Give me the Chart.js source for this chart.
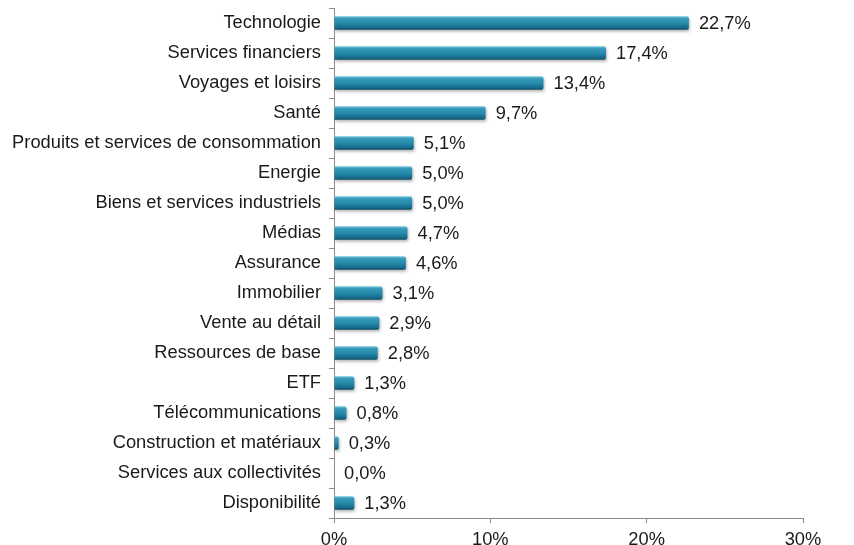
<!DOCTYPE html>
<html>
<head>
<meta charset="utf-8">
<script src="https://cdn.jsdelivr.net/npm/chart.js@4.4.1/dist/chart.umd.min.js"></script>
<style>
  html, body { margin: 0; padding: 0; background: #fff; }
  #wrap { width: 854px; height: 545px; }
</style>
</head>
<body>
<div id="wrap"><canvas id="sectorChart"></canvas></div>
<script>
// Sector weights (%)
const sectors = [
  'Technologie', 'Services financiers', 'Voyages et loisirs', 'Santé',
  'Produits et services de consommation', 'Energie', 'Biens et services industriels',
  'Médias', 'Assurance', 'Immobilier', 'Vente au détail', 'Ressources de base',
  'ETF', 'Télécommunications', 'Construction et matériaux',
  'Services aux collectivités', 'Disponibilité'
];
const weights = [22.7, 17.4, 13.4, 9.7, 5.1, 5.0, 5.0, 4.7, 4.6, 3.1, 2.9, 2.8, 1.3, 0.8, 0.3, 0.0, 1.3];
const xTicks = [0, 10, 20, 30];

const FONT = { family: '"Liberation Sans", Arial, sans-serif', size: 18.3 };
const TEXT = '#1a1a1a';
const AXIS = '#8a8a8a';
const BAR_PCT = 0.45;

// vertical gradient per bar, built from the category scale
function barFill(ctx) {
  const chart = ctx.chart;
  const y = chart.scales.y;
  if (!y || !chart.chartArea) return '#1f86a4';
  const mid = y.getPixelForValue(ctx.dataIndex);
  const half = (y.height / sectors.length) * BAR_PCT / 2;
  const g = chart.ctx.createLinearGradient(0, mid - half, 0, mid + half);
  g.addColorStop(0, '#7cc8e0');
  g.addColorStop(0.18, '#3599ba');
  g.addColorStop(0.55, '#2488a8');
  g.addColorStop(0.85, '#17698a');
  g.addColorStop(1, '#0f4e64');
  return g;
}

// soft drop shadow under the bars
const barShadow = {
  id: 'barShadow',
  beforeDatasetsDraw(chart) {
    const c = chart.ctx;
    c.save();
    c.shadowColor = 'rgba(0,0,0,0.28)';
    c.shadowBlur = 3;
    c.shadowOffsetX = 1;
    c.shadowOffsetY = 2;
  },
  afterDatasetsDraw(chart) {
    chart.ctx.restore();
  }
};

// value labels after each bar
const valueLabels = {
  id: 'valueLabels',
  afterDatasetsDraw(chart) {
    const c = chart.ctx;
    const meta = chart.getDatasetMeta(0);
    c.save();
    c.font = FONT.size + 'px ' + FONT.family;
    c.fillStyle = TEXT;
    c.textAlign = 'left';
    c.textBaseline = 'middle';
    meta.data.forEach((bar, i) => {
      const txt = weights[i].toFixed(1).replace('.', ',') + '%';
      c.fillText(txt, bar.x + 10, bar.y + 1);
    });
    c.restore();
  }
};

new Chart(document.getElementById('sectorChart'), {
  type: 'bar',
  data: {
    labels: sectors,
    datasets: [{
      data: weights,
      backgroundColor: barFill,
      borderWidth: 0,
      borderRadius: 2,
      borderSkipped: 'start',
      categoryPercentage: 1,
      barPercentage: BAR_PCT
    }]
  },
  options: {
    indexAxis: 'y',
    responsive: true,
    maintainAspectRatio: false,
    animation: false,
    layout: { padding: { top: 8, right: 51, left: 0, bottom: 0 } },
    plugins: {
      legend: { display: false },
      tooltip: { enabled: false }
    },
    scales: {
      x: {
        min: 0,
        max: 30,
        afterBuildTicks: s => { s.ticks = xTicks.map(v => ({ value: v })); },
        afterFit: s => { s.height = 27; s.paddingLeft = 0; s.paddingRight = 0; },
        grid: { drawOnChartArea: false, color: AXIS, tickLength: 5 },
        border: { color: AXIS },
        ticks: {
          color: TEXT,
          font: FONT,
          padding: 6,
          maxRotation: 0,
          callback: v => v + '%'
        }
      },
      y: {
        afterFit: s => { s.width = 334; s.paddingTop = 0; s.paddingBottom = 0; },
        grid: { drawOnChartArea: false, offset: true, color: AXIS, tickLength: 5 },
        border: { color: AXIS },
        ticks: { color: TEXT, font: FONT, padding: 8, autoSkip: false }
      }
    }
  },
  plugins: [barShadow, valueLabels]
});
</script>
</body>
</html>
